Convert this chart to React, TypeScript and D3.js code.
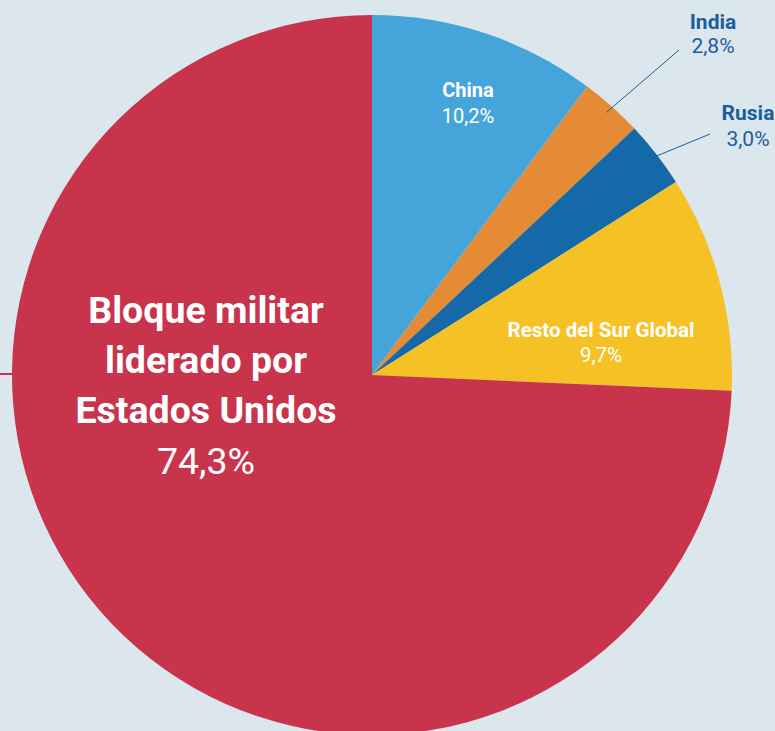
import React from "react";
import * as d3 from "d3";

const categories = ["China", "India", "Rusia", "Resto del Sur Global", "Bloque militar liderado por Estados Unidos"];
const values = [10.2, 2.8, 3.0, 9.7, 74.3];
const valueLabels = ["10,2%", "2,8%", "3,0%", "9,7%", "74,3%"];
const colors = ["#45a5da", "#e58a35", "#1569a8", "#f6c124", "#c8344c"];

const W = 775, H = 731;
const cx = 372, cy = 375, R = 360;
const FONT = "Roboto, 'Noto Sans', sans-serif";
const outerBlue = "#1a5ea0";

export default function App() {
  const pie = d3.pie<number>().sort(null).value((d) => d)(values);
  const arc = d3.arc<d3.PieArcDatum<number>>().innerRadius(0).outerRadius(R);
  const pt = (angle: number, r: number) => [Math.sin(angle) * r, -Math.cos(angle) * r];
  const mid = (i: number) => (pie[i].startAngle + pie[i].endAngle) / 2;

  const indiaA = pt(mid(1), R - 8);
  const rusiaA = pt(mid(2), R - 6);

  return (
    <svg width={W} height={H} style={{ position: "absolute", left: 0, top: 0, background: "#dce6ed" }}>
      <rect width={W} height={H} fill="#dce6ed" />
      <line x1={0} x2={cx - R + 2} y1={cy - 1} y2={cy - 1} stroke="#c8344c" strokeWidth={2} />
      <g transform={`translate(${cx},${cy})`}>
        {pie.map((p, i) => (
          <path key={categories[i]} d={arc(p) || ""} fill={colors[i]} />
        ))}
        <line x1={indiaA[0]} y1={indiaA[1]} x2={679 - cx} y2={50 - cy} stroke={outerBlue} strokeWidth={1} />
        <line x1={rusiaA[0]} y1={rusiaA[1]} x2={710 - cx} y2={134 - cy} stroke={outerBlue} strokeWidth={1} />
      </g>
      <g fontFamily={FONT} textAnchor="middle">
        <text x={468} y={97} fill="#fff" fontWeight="bold" fontSize={20}>{categories[0]}</text>
        <text x={468} y={123} fill="#fff" fontSize={20}>{valueLabels[0]}</text>

        <text x={713} y={29} fill={outerBlue} fontWeight="bold" fontSize={21}>{categories[1]}</text>
        <text x={713} y={53} fill={outerBlue} fontSize={21}>{valueLabels[1]}</text>

        <text x={748} y={120} fill={outerBlue} fontWeight="bold" fontSize={21}>{categories[2]}</text>
        <text x={748} y={146} fill={outerBlue} fontSize={21}>{valueLabels[2]}</text>

        <text x={601} y={337} fill="#fff" fontWeight="bold" fontSize={20.5}>{categories[3]}</text>
        <text x={601} y={362} fill="#fff" fontSize={20.5}>{valueLabels[3]}</text>

        <text x={206} y={323} fill="#fff" fontWeight="bold" fontSize={37.5}>Bloque militar</text>
        <text x={206} y={373} fill="#fff" fontWeight="bold" fontSize={37.5}>liderado por</text>
        <text x={206} y={423} fill="#fff" fontWeight="bold" fontSize={37.5}>Estados Unidos</text>
        <text x={206} y={474} fill="#fff" fontSize={37.5}>{valueLabels[4]}</text>
      </g>
    </svg>
  );
}
